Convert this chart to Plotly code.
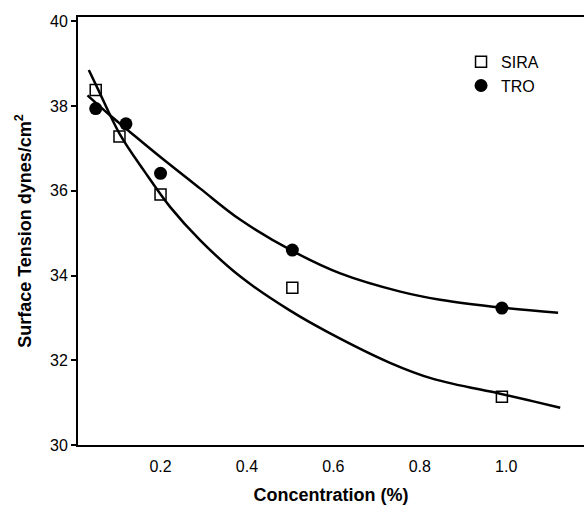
import plotly.graph_objects as go

# Measured data points
sira_x = [0.05, 0.105, 0.2, 0.505, 0.99]
sira_y = [38.38, 37.28, 35.91, 33.71, 31.14]
tro_x = [0.05, 0.12, 0.2, 0.505, 0.99]
tro_y = [37.94, 37.58, 36.41, 34.6, 33.23]

# Fitted curves
sira_fit_x = [0.034, 0.056, 0.106, 0.164, 0.222, 0.292, 0.384, 0.5, 0.586, 0.731, 0.831, 0.986, 1.063, 1.125]
sira_fit_y = [38.85, 38.38, 37.33, 36.44, 35.62, 34.83, 33.98, 33.17, 32.67, 31.94, 31.56, 31.21, 31.03, 30.88]
tro_fit_x = [0.031, 0.083, 0.13, 0.199, 0.292, 0.384, 0.505, 0.616, 0.755, 0.847, 0.993, 1.12]
tro_fit_y = [38.25, 37.78, 37.38, 36.8, 36.05, 35.32, 34.58, 34.05, 33.62, 33.43, 33.24, 33.12]

x_ticks = [0.2, 0.4, 0.6, 0.8, 1.0]
x_ticktext = ["0.2", "0.4", "0.6", "0.8", "1.0"]
y_ticks = [30, 32, 34, 36, 38, 40]

FONT = "Liberation Sans, Arial, sans-serif"

fig = go.Figure()
fig.add_trace(go.Scatter(x=sira_fit_x, y=sira_fit_y, mode="lines", line=dict(color="black", width=2.5, shape="spline", smoothing=1.0), showlegend=False, hoverinfo="skip"))
fig.add_trace(go.Scatter(x=tro_fit_x, y=tro_fit_y, mode="lines", line=dict(color="black", width=2.5, shape="spline", smoothing=1.0), showlegend=False, hoverinfo="skip"))
fig.add_trace(go.Scatter(x=sira_x, y=sira_y, mode="markers", name="SIRA",
                         marker=dict(symbol="square-open", size=11, color="black", line=dict(width=1.5, color="black"))))
fig.add_trace(go.Scatter(x=tro_x, y=tro_y, mode="markers", name="TRO",
                         marker=dict(symbol="circle", size=13, color="black")))

fig.update_layout(
    width=584, height=505,
    margin=dict(l=78, r=0, t=17, b=60),
    paper_bgcolor="white", plot_bgcolor="white",
    font=dict(family=FONT, color="black", size=16),
    legend=dict(x=0.757, y=0.935, xanchor="left", yanchor="top", bgcolor="rgba(0,0,0,0)",
                font=dict(size=16), tracegroupgap=0, itemwidth=30),
    xaxis=dict(range=[0.009, 1.18], showgrid=False, zeroline=False, showline=True, linewidth=2, linecolor="black",
               mirror=True, ticks="", tickvals=x_ticks, ticktext=x_ticktext, tickfont=dict(size=16),
               ticklabelstandoff=6,
               title=dict(text="<b>Concentration (%)</b>", font=dict(size=18), standoff=14)),
    yaxis=dict(range=[30, 40.1], showgrid=False, zeroline=False, showline=True, linewidth=2, linecolor="black",
               ticks="outside", ticklen=5, tickwidth=1.5, tickcolor="black", tickvals=y_ticks, tickfont=dict(size=16),
               title=dict(text="<b>Surface Tension dynes/cm<sup>2</sup></b>", font=dict(size=18), standoff=14)),
)

fig.write_html("out.html")
